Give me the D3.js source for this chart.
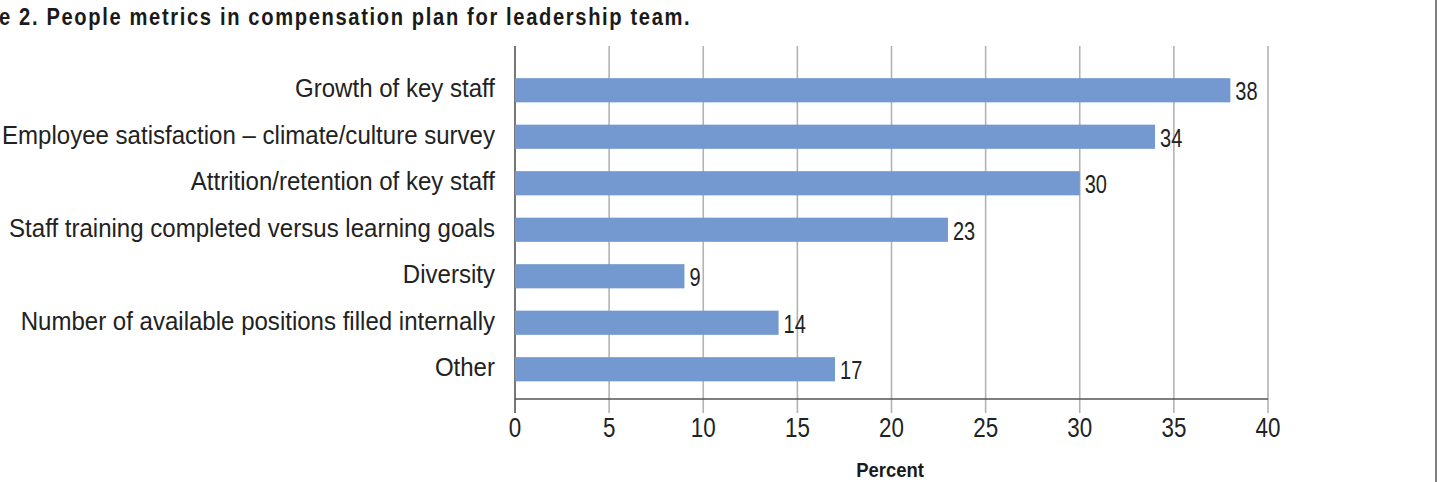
<!DOCTYPE html>
<html>
<head>
<meta charset="utf-8">
<script src="https://cdn.jsdelivr.net/npm/d3@7"></script>
<style>
  body { margin: 0; background: #fff; }
  text { font-family: "Liberation Sans", Arial, sans-serif; }
</style>
</head>
<body>
<script>
var categories = [
    "Growth of key staff",
    "Employee satisfaction \u2013 climate/culture survey",
    "Attrition/retention of key staff",
    "Staff training completed versus learning goals",
    "Diversity",
    "Number of available positions filled internally",
    "Other"
];
var values = [38, 34, 30, 23, 9, 14, 17];
var xTicks = [0, 5, 10, 15, 20, 25, 30, 35, 40];
var titleText = "Figure 2. People metrics in compensation plan for leadership team.";
var axisTitle = "Percent";

function init(){
    var w = 1443;
    var h = 482;

    var svg = d3.select("body")
                .append("svg")
                .attr("width", w)
                .attr("height", h);

    var xScale = d3.scaleLinear()
                   .domain([0, 40])
                   .range([515, 1268]);

    var yScale = d3.scaleBand()
                   .domain(categories)
                   .range([67, 392.5])
                   .paddingInner(0.48)
                   .paddingOuter(0.24);

    // narrow text: scale the glyphs horizontally to look like a condensed face
    function squeeze(sx) {
        return function(sel, x, y) {
            sel.attr("transform", function(d, i) {
                return "translate(" + x(d, i) + "," + y(d, i) + ") scale(" + sx + ",1)";
            });
        };
    }

    // right border of the figure box
    svg.append("line")
       .attr("x1", 1436).attr("x2", 1436)
       .attr("y1", 0).attr("y2", h)
       .attr("stroke", "#808080")
       .attr("stroke-width", 2);

    // title, clipped at the left like the scan
    var tsx = 0.84;
    var tmp = svg.append("text")
                 .style("font-size", "24px")
                 .style("font-weight", "bold")
                 .style("letter-spacing", "1.95px")
                 .text("Figur");
    var off = tmp.node().getComputedTextLength() * tsx;
    tmp.remove();
    svg.append("text")
       .attr("transform", "translate(" + (-off - 1) + ",25) scale(" + tsx + ",1)")
       .style("font-size", "24px")
       .style("font-weight", "bold")
       .style("letter-spacing", "1.95px")
       .attr("fill", "#1a1a1a")
       .text(titleText);

    // gridlines + ticks below the axis
    svg.append("g")
       .selectAll("line")
       .data(xTicks)
       .enter()
       .append("line")
       .attr("x1", function(d) { return xScale(d); })
       .attr("x2", function(d) { return xScale(d); })
       .attr("y1", 46)
       .attr("y2", 413)
       .attr("stroke", function(d) { return d === 0 ? "#555" : "#b3b3b3"; })
       .attr("stroke-width", 1.6);

    // bars
    svg.append("g")
       .attr("fill", "#7399d0")
       .selectAll("rect")
       .data(values)
       .enter()
       .append("rect")
       .attr("x", xScale(0))
       .attr("y", function(d, i) { return yScale(categories[i]); })
       .attr("width", function(d) { return xScale(d) - xScale(0); })
       .attr("height", yScale.bandwidth());

    // baseline
    svg.append("line")
       .attr("x1", xScale(0)).attr("x2", xScale(40))
       .attr("y1", 399).attr("y2", 399)
       .attr("stroke", "#555")
       .attr("stroke-width", 1.6);

    // value labels
    svg.append("g")
       .selectAll("text")
       .data(values)
       .enter()
       .append("text")
       .style("font-size", "25px")
       .attr("fill", "#222")
       .text(function(d) { return d; })
       .call(squeeze(0.8),
             function(d) { return xScale(d) + 5; },
             function(d, i) { return yScale(categories[i]) + yScale.bandwidth() / 2 + 10; });

    // category labels
    svg.append("g")
       .selectAll("text")
       .data(categories)
       .enter()
       .append("text")
       .attr("text-anchor", "end")
       .style("font-size", "26px")
       .attr("fill", "#222")
       .text(function(d) { return d; })
       .call(squeeze(0.925),
             function() { return 495; },
             function(d) { return yScale(d) + yScale.bandwidth() / 2 + 7; });

    // tick labels
    svg.append("g")
       .selectAll("text")
       .data(xTicks)
       .enter()
       .append("text")
       .attr("text-anchor", "middle")
       .style("font-size", "28px")
       .attr("fill", "#222")
       .text(function(d) { return d; })
       .call(squeeze(0.8),
             function(d) { return xScale(d); },
             function() { return 437; });

    svg.append("text")
       .attr("transform", "translate(890,477) scale(0.88,1)")
       .attr("text-anchor", "middle")
       .style("font-size", "21px")
       .style("font-weight", "bold")
       .attr("fill", "#1a1a1a")
       .text(axisTitle);
}
window.onload = init;
</script>
</body>
</html>
